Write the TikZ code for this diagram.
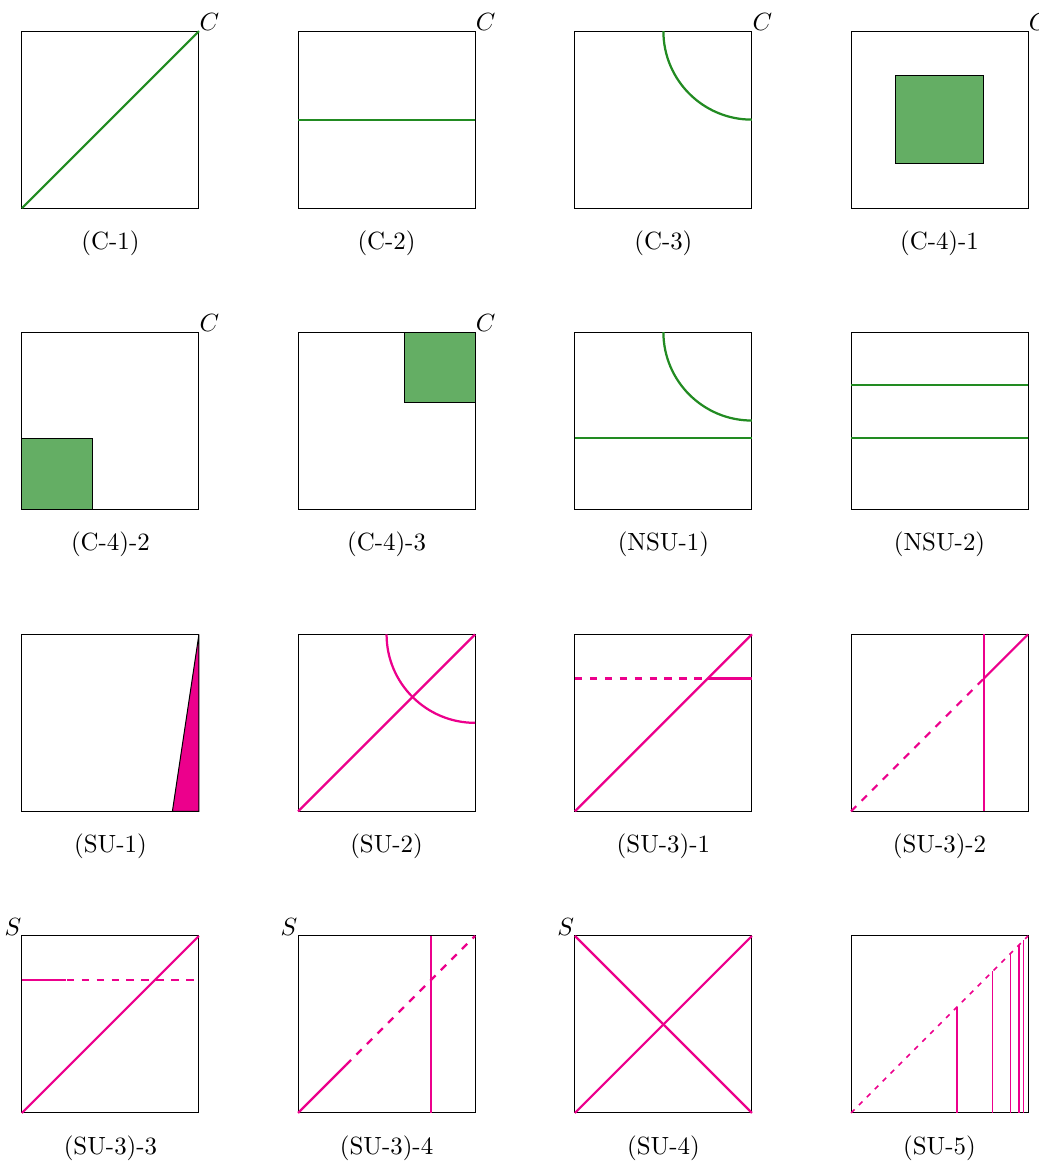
\documentclass[tikz,border=0pt]{standalone}
\usepackage{tikz}

\definecolor{forest}{HTML}{228B22}
\definecolor{mag}{HTML}{EC008C}

\begin{document}
\begin{tikzpicture}[line cap=butt,line join=miter,
    frame/.style={line width=0.4pt},
    gline/.style={forest,line width=0.9pt},
    gbox/.style={draw=black,line width=0.4pt,fill=forest!70},
    mline/.style={mag,line width=0.9pt},
    mthin/.style={mag,line width=0.6pt},
    lab/.style={inner sep=0pt},
    corner/.style={inner sep=0.1pt}]
  \def\a{2.5}
  \useasboundingbox (0,0) rectangle (14.675,-16.441);

  % Row 1
  \begin{scope}[shift={(0.31,-2.94)}]
    \draw[frame] (0,0) rectangle (\a,\a);
    \draw[gline] (0,0) -- (\a,\a);
    \node[corner,above right] (c1) at (\a,\a) {$C$};
    \node[lab] (l1) at (\a/2,-0.5) {(C-1)};
  \end{scope}
  \begin{scope}[shift={(4.21,-2.94)}]
    \draw[frame] (0,0) rectangle (\a,\a);
    \draw[gline] (0,\a/2) -- (\a,\a/2);
    \node[corner,above right] (c2) at (\a,\a) {$C$};
    \node[lab] (l2) at (\a/2,-0.5) {(C-2)};
  \end{scope}
  \begin{scope}[shift={(8.12,-2.94)}]
    \draw[frame] (0,0) rectangle (\a,\a);
    \draw[gline] (\a/2,\a) arc (180:270:\a/2);
    \node[corner,above right] (c3) at (\a,\a) {$C$};
    \node[lab] (l3) at (\a/2,-0.5) {(C-3)};
  \end{scope}
  \begin{scope}[shift={(12.02,-2.94)}]
    \draw[frame] (0,0) rectangle (\a,\a);
    \draw[gbox] (\a/4,\a/4) rectangle (3*\a/4,3*\a/4);
    \node[corner,above right] (c4) at (\a,\a) {$C$};
    \node[lab] (l4) at (\a/2,-0.5) {(C-4)-1};
  \end{scope}

  % Row 2
  \begin{scope}[shift={(0.31,-7.19)}]
    \draw[frame] (0,0) rectangle (\a,\a);
    \draw[gbox] (0,0) rectangle (0.4*\a,0.4*\a);
    \node[corner,above right] (c5) at (\a,\a) {$C$};
    \node[lab] (l5) at (\a/2,-0.5) {(C-4)-2};
  \end{scope}
  \begin{scope}[shift={(4.21,-7.19)}]
    \draw[frame] (0,0) rectangle (\a,\a);
    \draw[gbox] (0.6*\a,0.6*\a) rectangle (\a,\a);
    \node[corner,above right] (c6) at (\a,\a) {$C$};
    \node[lab] (l6) at (\a/2,-0.5) {(C-4)-3};
  \end{scope}
  \begin{scope}[shift={(8.12,-7.19)}]
    \draw[frame] (0,0) rectangle (\a,\a);
    \draw[gline] (\a/2,\a) arc (180:270:\a/2);
    \draw[gline] (0,0.4*\a) -- (\a,0.4*\a);
    \node[lab] (l7) at (\a/2,-0.5) {(NSU-1)};
  \end{scope}
  \begin{scope}[shift={(12.02,-7.19)}]
    \draw[frame] (0,0) rectangle (\a,\a);
    \draw[gline] (0,0.7*\a) -- (\a,0.7*\a);
    \draw[gline] (0,0.4*\a) -- (\a,0.4*\a);
    \node[lab] (l8) at (\a/2,-0.5) {(NSU-2)};
  \end{scope}

  % Row 3
  \begin{scope}[shift={(0.31,-11.46)}]
    \draw[frame] (0,0) rectangle (\a,\a);
    \draw[line width=0.4pt,fill=mag] (0.85*\a,0) -- (\a,0) -- (\a,\a) -- cycle;
    \node[lab] (l9) at (\a/2,-0.5) {(SU-1)};
  \end{scope}
  \begin{scope}[shift={(4.21,-11.46)}]
    \draw[frame] (0,0) rectangle (\a,\a);
    \draw[mline] (0,0) -- (\a,\a);
    \draw[mline] (\a/2,\a) arc (180:270:\a/2);
    \node[lab] (l10) at (\a/2,-0.5) {(SU-2)};
  \end{scope}
  \begin{scope}[shift={(8.12,-11.46)}]
    \draw[frame] (0,0) rectangle (\a,\a);
    \draw[mline] (0,0) -- (\a,\a);
    \draw[mline,dashed] (0,0.75*\a) -- (0.75*\a,0.75*\a);
    \draw[mline] (0.75*\a,0.75*\a) -- (\a,0.75*\a);
    \node[lab] (l11) at (\a/2,-0.5) {(SU-3)-1};
  \end{scope}
  \begin{scope}[shift={(12.02,-11.46)}]
    \draw[frame] (0,0) rectangle (\a,\a);
    \draw[mline] (0.75*\a,0) -- (0.75*\a,\a);
    \draw[mline,dashed] (0,0) -- (0.75*\a,0.75*\a);
    \draw[mline] (0.75*\a,0.75*\a) -- (\a,\a);
    \node[lab] (l12) at (\a/2,-0.5) {(SU-3)-2};
  \end{scope}

  % Row 4
  \begin{scope}[shift={(0.31,-15.72)}]
    \draw[frame] (0,0) rectangle (\a,\a);
    \draw[mline] (0,0) -- (\a,\a);
    \draw[mline,dashed] (0,0.75*\a) -- (\a,0.75*\a);
    \draw[mline] (0,0.75*\a) -- (0.25*\a,0.75*\a);
    \node[corner,above left] (s1) at (0,\a) {$S$};
    \node[lab] (l13) at (\a/2,-0.5) {(SU-3)-3};
  \end{scope}
  \begin{scope}[shift={(4.21,-15.72)}]
    \draw[frame] (0,0) rectangle (\a,\a);
    \draw[mline] (0.75*\a,0) -- (0.75*\a,\a);
    \draw[mline] (0,0) -- (0.27*\a,0.27*\a);
    \draw[mline,dashed] (0.27*\a,0.27*\a) -- (\a,\a);
    \node[corner,above left] (s2) at (0,\a) {$S$};
    \node[lab] (l14) at (\a/2,-0.5) {(SU-3)-4};
  \end{scope}
  \begin{scope}[shift={(8.12,-15.72)}]
    \draw[frame] (0,0) rectangle (\a,\a);
    \draw[mline] (0,0) -- (\a,\a);
    \draw[mline] (0,\a) -- (\a,0);
    \node[corner,above left] (s3) at (0,\a) {$S$};
    \node[lab] (l15) at (\a/2,-0.5) {(SU-4)};
  \end{scope}
  \begin{scope}[shift={(12.02,-15.72)}]
    \draw[frame] (0,0) rectangle (\a,\a);
    \draw[mthin,dash pattern=on 2pt off 2.5pt] (0,0) -- (\a,\a);
    \draw[mthin] (0.6*\a,0) -- (0.6*\a,0.6*\a);
    \draw[mthin] (0.8*\a,0) -- (0.8*\a,0.8*\a);
    \draw[mthin] (0.9*\a,0) -- (0.9*\a,0.9*\a);
    \draw[mthin] (0.95*\a,0) -- (0.95*\a,0.95*\a);
    \draw[mthin] (0.975*\a,0) -- (0.975*\a,0.975*\a);
    \node[lab] (l16) at (\a/2,-0.5) {(SU-5)};
  \end{scope}
\end{tikzpicture}
\end{document}
